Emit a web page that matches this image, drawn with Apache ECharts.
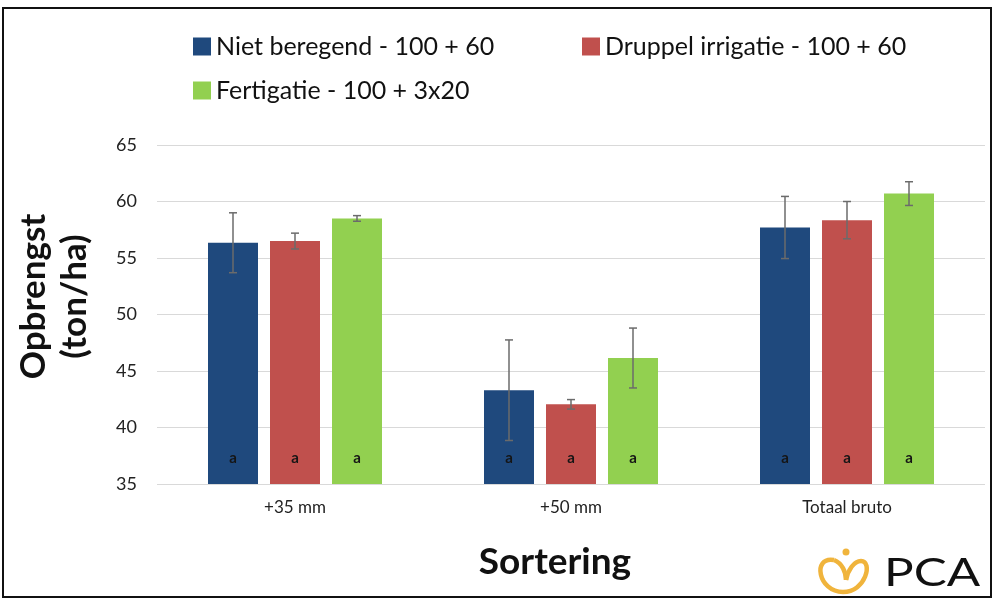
<!DOCTYPE html>
<html><head><meta charset="utf-8">
<script src="https://cdn.jsdelivr.net/npm/echarts@6/dist/echarts.min.js"></script>
<style>html,body{margin:0;padding:0;background:#fff}#c{width:999px;height:606px}</style>
</head><body><div id="c"></div>
<script>
const categories = ['+35 mm', '+50 mm', 'Totaal bruto'];
const seriesNames = ['Niet beregend - 100 + 60', 'Druppel irrigatie - 100 + 60', 'Fertigatie - 100 + 3x20'];
const nietBeregend = [56.35, 43.3, 57.7];
const druppel = [56.5, 42.05, 58.35];
const fertigatie = [58.5, 46.15, 60.7];
const errNiet = [2.65, 4.45, 2.75];
const errDruppel = [0.7, 0.42, 1.65];
const errFert = [0.25, 2.65, 1.05];
const letters = ['a', 'a', 'a'];
const yTicks = [35, 40, 45, 50, 55, 60, 65];

const colors = ['#1F497D', '#C0504D', '#92D050'];
const values = [nietBeregend, druppel, fertigatie];
const errors = [errNiet, errDruppel, errFert];
const FONT = 'Lato, "Open Sans", sans-serif';

const chart = echarts.init(document.getElementById('c'));
const barW = 50, gap = 12;
const series = [];
values.forEach((vals, i) => {
  series.push({
    name: seriesNames[i], type: 'bar', data: vals, barWidth: barW, barGap: (gap / barW * 100) + '%',
    itemStyle: { color: colors[i] },
    label: { show: true, position: 'insideBottom', distance: 18, formatter: p => letters[p.dataIndex],
      color: '#151515', fontSize: 15, fontWeight: 'bold', fontFamily: FONT }
  });
});
values.forEach((vals, i) => {
  const off = (i - 1) * (barW + gap);
  series.push({
    type: 'custom', silent: true, z: 10,
    data: vals.map((v, k) => [k, v - errors[i][k], v + errors[i][k]]),
    renderItem: (params, api) => {
      const lo = api.coord([api.value(0), api.value(1)]);
      const hi = api.coord([api.value(0), api.value(2)]);
      const x = lo[0] + off, c = 4;
      const st = { stroke: '#6b6b6b', lineWidth: 1.5 };
      return { type: 'group', children: [
        { type: 'line', shape: { x1: x, y1: lo[1], x2: x, y2: hi[1] }, style: st },
        { type: 'line', shape: { x1: x - c, y1: lo[1], x2: x + c, y2: lo[1] }, style: st },
        { type: 'line', shape: { x1: x - c, y1: hi[1], x2: x + c, y2: hi[1] }, style: st }
      ]};
    }
  });
});

const legendBase = (name, left, top) => ({
  data: [name], left, top, itemWidth: 18, itemHeight: 18, itemGap: 10, icon: 'rect',
  textStyle: { fontSize: 25, color: '#111', fontFamily: FONT }, selectedMode: false
});

const logoStroke = { fill: 'none', stroke: '#F0B43C', lineWidth: 4.5 };
const bz = (x1, y1, cpx1, cpy1, cpx2, cpy2, x2, y2) => ({ type: 'bezierCurve', shape: { x1, y1, cpx1, cpy1, cpx2, cpy2, x2, y2 }, style: logoStroke });

chart.setOption({
  animation: false,
  color: colors,
  grid: { left: 157, right: 14, top: 145, bottom: 122 },
  legend: [
    legendBase(seriesNames[0], 188, 29),
    legendBase(seriesNames[1], 577, 29),
    legendBase(seriesNames[2], 188, 73)
  ],
  xAxis: {
    type: 'category', data: categories,
    axisLine: { show: false }, axisTick: { show: false },
    axisLabel: { fontSize: 17, color: '#222', margin: 15, fontFamily: FONT },
    name: 'Sortering', nameLocation: 'middle', nameGap: 60,
    nameTextStyle: { fontSize: 37, fontWeight: 'bold', color: '#111', fontFamily: FONT, padding: [0, 32, 0, 0] }
  },
  yAxis: {
    type: 'value', min: yTicks[0], max: yTicks[yTicks.length - 1], interval: 5,
    axisLine: { show: false }, axisTick: { show: false },
    axisLabel: { fontSize: 18, color: '#222', margin: 20, fontFamily: FONT },
    splitLine: { lineStyle: { color: '#d9d9d9', width: 1.2 } },
    name: 'Opbrengst\n(ton/ha)', nameLocation: 'middle', nameGap: 62, nameRotate: 90,
    nameTextStyle: { fontSize: 35, fontWeight: 'bold', color: '#111', lineHeight: 41, fontFamily: FONT, padding: [0, 0, 0, 36] }
  },
  series,
  graphic: [
    { type: 'rect', shape: { x: 3, y: 8, width: 988, height: 589 }, style: { fill: 'none', stroke: '#111', lineWidth: 2 }, z: 100 },
    { type: 'circle', shape: { cx: 846, cy: 552, r: 3.5 }, style: { fill: '#F0B43C' } },
    bz(843, 592, 818, 592, 812, 556, 834, 560),
    bz(834, 560, 842, 563, 846, 572, 846, 580),
    bz(846, 580, 848, 570, 854, 561, 861, 561),
    bz(861, 561, 873, 561, 866, 592, 843, 592),
    { type: 'text', x: 884, y: 555, scaleX: 1.3, style: { text: 'PCA', font: '400 38px Lato, sans-serif', fill: '#111' } }
  ]
});
</script></body></html>
